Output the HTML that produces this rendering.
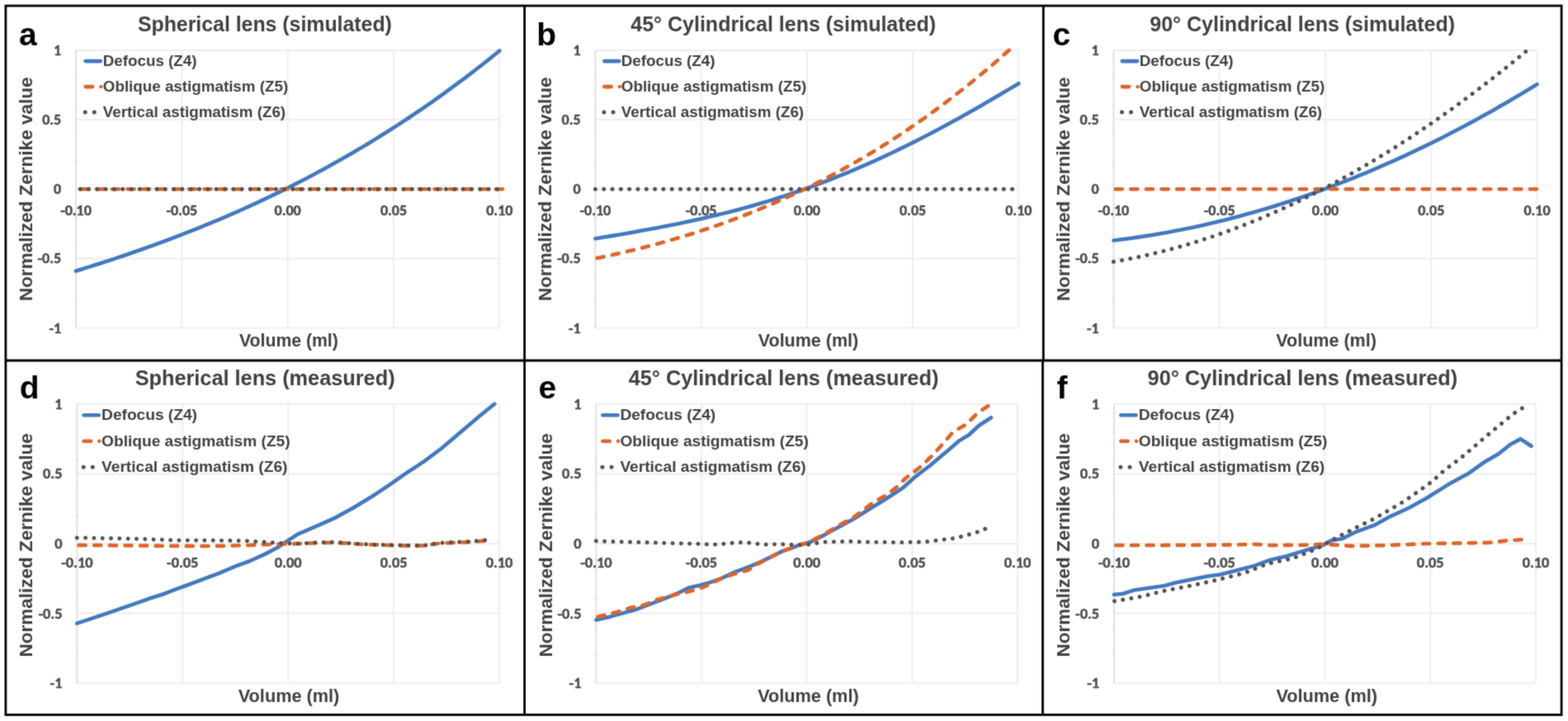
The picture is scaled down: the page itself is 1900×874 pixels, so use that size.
<!DOCTYPE html>
<html><head><meta charset="utf-8"><title>Zernike figure</title>
<style>html,body{margin:0;padding:0;background:#fff;}svg{display:block;}</style></head>
<body><svg width="1900" height="874" viewBox="0 0 1900 874">
<defs><filter id="soft" x="0" y="0" width="1900" height="874" filterUnits="userSpaceOnUse" color-interpolation-filters="sRGB"><feConvolveMatrix order="3" kernelMatrix="0.02250 0.10500 0.02250 0.10500 0.49000 0.10500 0.02250 0.10500 0.02250" divisor="1" edgeMode="duplicate"/></filter></defs>
<g filter="url(#soft)">
<rect x="0" y="0" width="1900" height="874" fill="#fff"/>
<line x1="92.00" y1="60.90" x2="605.30" y2="60.90" stroke="#eeeeee" stroke-width="2"/>
<line x1="92.00" y1="145.08" x2="605.30" y2="145.08" stroke="#eeeeee" stroke-width="2"/>
<line x1="92.00" y1="313.43" x2="605.30" y2="313.43" stroke="#eeeeee" stroke-width="2"/>
<line x1="92.00" y1="397.60" x2="605.30" y2="397.60" stroke="#eeeeee" stroke-width="2"/>
<line x1="92.00" y1="229.25" x2="605.30" y2="229.25" stroke="#eeeeee" stroke-width="2"/>
<line x1="220.32" y1="60.90" x2="220.32" y2="397.60" stroke="#eeeeee" stroke-width="2"/>
<line x1="348.65" y1="60.90" x2="348.65" y2="397.60" stroke="#eeeeee" stroke-width="2"/>
<line x1="476.98" y1="60.90" x2="476.98" y2="397.60" stroke="#eeeeee" stroke-width="2"/>
<line x1="605.30" y1="60.90" x2="605.30" y2="397.60" stroke="#eeeeee" stroke-width="2"/>
<line x1="92.00" y1="60.90" x2="92.00" y2="397.60" stroke="#e0e0e0" stroke-width="2"/>
<line x1="90.00" y1="363.93" x2="94.00" y2="363.93" stroke="#dddddd" stroke-width="1"/>
<line x1="90.00" y1="330.26" x2="94.00" y2="330.26" stroke="#dddddd" stroke-width="1"/>
<line x1="90.00" y1="296.59" x2="94.00" y2="296.59" stroke="#dddddd" stroke-width="1"/>
<line x1="90.00" y1="262.92" x2="94.00" y2="262.92" stroke="#dddddd" stroke-width="1"/>
<line x1="90.00" y1="195.58" x2="94.00" y2="195.58" stroke="#dddddd" stroke-width="1"/>
<line x1="90.00" y1="161.91" x2="94.00" y2="161.91" stroke="#dddddd" stroke-width="1"/>
<line x1="90.00" y1="128.24" x2="94.00" y2="128.24" stroke="#dddddd" stroke-width="1"/>
<line x1="90.00" y1="94.57" x2="94.00" y2="94.57" stroke="#dddddd" stroke-width="1"/>
<text x="74.20" y="66.84" text-anchor="end" font-family="Carlito, Calibri, 'Liberation Sans', sans-serif" font-weight="bold" font-size="18.00" fill="#4d4d4d" stroke="#4d4d4d" stroke-width="0.45">1</text>
<text x="74.20" y="151.02" text-anchor="end" font-family="Carlito, Calibri, 'Liberation Sans', sans-serif" font-weight="bold" font-size="18.00" fill="#4d4d4d" stroke="#4d4d4d" stroke-width="0.45">0.5</text>
<text x="74.20" y="235.19" text-anchor="end" font-family="Carlito, Calibri, 'Liberation Sans', sans-serif" font-weight="bold" font-size="18.00" fill="#4d4d4d" stroke="#4d4d4d" stroke-width="0.45">0</text>
<text x="74.20" y="319.37" text-anchor="end" font-family="Carlito, Calibri, 'Liberation Sans', sans-serif" font-weight="bold" font-size="18.00" fill="#4d4d4d" stroke="#4d4d4d" stroke-width="0.45">-0.5</text>
<text x="74.20" y="403.54" text-anchor="end" font-family="Carlito, Calibri, 'Liberation Sans', sans-serif" font-weight="bold" font-size="18.00" fill="#4d4d4d" stroke="#4d4d4d" stroke-width="0.45">-1</text>
<text x="92.00" y="260.69" text-anchor="middle" font-family="Carlito, Calibri, 'Liberation Sans', sans-serif" font-weight="bold" font-size="18.00" fill="#4d4d4d" stroke="#4d4d4d" stroke-width="0.45">-0.10</text>
<text x="220.32" y="260.69" text-anchor="middle" font-family="Carlito, Calibri, 'Liberation Sans', sans-serif" font-weight="bold" font-size="18.00" fill="#4d4d4d" stroke="#4d4d4d" stroke-width="0.45">-0.05</text>
<text x="348.65" y="260.69" text-anchor="middle" font-family="Carlito, Calibri, 'Liberation Sans', sans-serif" font-weight="bold" font-size="18.00" fill="#4d4d4d" stroke="#4d4d4d" stroke-width="0.45">0.00</text>
<text x="476.98" y="260.69" text-anchor="middle" font-family="Carlito, Calibri, 'Liberation Sans', sans-serif" font-weight="bold" font-size="18.00" fill="#4d4d4d" stroke="#4d4d4d" stroke-width="0.45">0.05</text>
<text x="605.30" y="260.69" text-anchor="middle" font-family="Carlito, Calibri, 'Liberation Sans', sans-serif" font-weight="bold" font-size="18.00" fill="#4d4d4d" stroke="#4d4d4d" stroke-width="0.45">0.10</text>
<text x="320.90" y="38.30" text-anchor="middle" font-family="'Liberation Sans', Arial, sans-serif" font-weight="bold" font-size="24.85" fill="#404040">Spherical lens (simulated)</text>
<text x="349.90" y="420.20" text-anchor="middle" font-family="'Liberation Sans', Arial, sans-serif" font-weight="bold" font-size="21.20" fill="#404040">Volume (ml)</text>
<text transform="translate(38.60,229.25) rotate(-90)" x="0" y="0" text-anchor="middle" font-family="'Liberation Sans', Arial, sans-serif" font-weight="bold" font-size="22.5" fill="#404040">Normalized Zernike value</text>
<text x="23.00" y="54.60" font-family="'Liberation Sans', Arial, sans-serif" font-weight="bold" font-size="39" fill="#000">a</text>
<text x="124.80" y="79.80" font-family="'Liberation Sans', Arial, sans-serif" font-weight="bold" font-size="18.80" fill="#404040">Defocus (Z4)</text>
<line x1="103.60" y1="74.10" x2="121.90" y2="74.10" stroke="#4279BF" stroke-width="4.6" stroke-linecap="round"/>
<text x="124.80" y="110.80" font-family="'Liberation Sans', Arial, sans-serif" font-weight="bold" font-size="18.80" fill="#404040">Oblique astigmatism (Z5)</text>
<line x1="103.60" y1="105.10" x2="112.00" y2="105.10" stroke="#DF6427" stroke-width="4.6" stroke-linecap="round"/>
<line x1="122.25" y1="105.10" x2="122.45" y2="105.10" stroke="#DF6427" stroke-width="4.4" stroke-linecap="round"/>
<text x="124.80" y="141.80" font-family="'Liberation Sans', Arial, sans-serif" font-weight="bold" font-size="18.80" fill="#404040">Vertical astigmatism (Z6)</text>
<circle cx="103.20" cy="136.10" r="2.5" fill="#515151"/>
<circle cx="114.30" cy="136.10" r="2.5" fill="#515151"/>
<line x1="721.40" y1="60.90" x2="1234.30" y2="60.90" stroke="#eeeeee" stroke-width="2"/>
<line x1="721.40" y1="145.08" x2="1234.30" y2="145.08" stroke="#eeeeee" stroke-width="2"/>
<line x1="721.40" y1="313.43" x2="1234.30" y2="313.43" stroke="#eeeeee" stroke-width="2"/>
<line x1="721.40" y1="397.60" x2="1234.30" y2="397.60" stroke="#eeeeee" stroke-width="2"/>
<line x1="721.40" y1="229.25" x2="1234.30" y2="229.25" stroke="#eeeeee" stroke-width="2"/>
<line x1="849.62" y1="60.90" x2="849.62" y2="397.60" stroke="#eeeeee" stroke-width="2"/>
<line x1="977.85" y1="60.90" x2="977.85" y2="397.60" stroke="#eeeeee" stroke-width="2"/>
<line x1="1106.08" y1="60.90" x2="1106.08" y2="397.60" stroke="#eeeeee" stroke-width="2"/>
<line x1="1234.30" y1="60.90" x2="1234.30" y2="397.60" stroke="#eeeeee" stroke-width="2"/>
<line x1="721.40" y1="60.90" x2="721.40" y2="397.60" stroke="#e0e0e0" stroke-width="2"/>
<line x1="719.40" y1="363.93" x2="723.40" y2="363.93" stroke="#dddddd" stroke-width="1"/>
<line x1="719.40" y1="330.26" x2="723.40" y2="330.26" stroke="#dddddd" stroke-width="1"/>
<line x1="719.40" y1="296.59" x2="723.40" y2="296.59" stroke="#dddddd" stroke-width="1"/>
<line x1="719.40" y1="262.92" x2="723.40" y2="262.92" stroke="#dddddd" stroke-width="1"/>
<line x1="719.40" y1="195.58" x2="723.40" y2="195.58" stroke="#dddddd" stroke-width="1"/>
<line x1="719.40" y1="161.91" x2="723.40" y2="161.91" stroke="#dddddd" stroke-width="1"/>
<line x1="719.40" y1="128.24" x2="723.40" y2="128.24" stroke="#dddddd" stroke-width="1"/>
<line x1="719.40" y1="94.57" x2="723.40" y2="94.57" stroke="#dddddd" stroke-width="1"/>
<text x="703.60" y="66.84" text-anchor="end" font-family="Carlito, Calibri, 'Liberation Sans', sans-serif" font-weight="bold" font-size="18.00" fill="#4d4d4d" stroke="#4d4d4d" stroke-width="0.45">1</text>
<text x="703.60" y="151.02" text-anchor="end" font-family="Carlito, Calibri, 'Liberation Sans', sans-serif" font-weight="bold" font-size="18.00" fill="#4d4d4d" stroke="#4d4d4d" stroke-width="0.45">0.5</text>
<text x="703.60" y="235.19" text-anchor="end" font-family="Carlito, Calibri, 'Liberation Sans', sans-serif" font-weight="bold" font-size="18.00" fill="#4d4d4d" stroke="#4d4d4d" stroke-width="0.45">0</text>
<text x="703.60" y="319.37" text-anchor="end" font-family="Carlito, Calibri, 'Liberation Sans', sans-serif" font-weight="bold" font-size="18.00" fill="#4d4d4d" stroke="#4d4d4d" stroke-width="0.45">-0.5</text>
<text x="703.60" y="403.54" text-anchor="end" font-family="Carlito, Calibri, 'Liberation Sans', sans-serif" font-weight="bold" font-size="18.00" fill="#4d4d4d" stroke="#4d4d4d" stroke-width="0.45">-1</text>
<text x="721.40" y="260.69" text-anchor="middle" font-family="Carlito, Calibri, 'Liberation Sans', sans-serif" font-weight="bold" font-size="18.00" fill="#4d4d4d" stroke="#4d4d4d" stroke-width="0.45">-0.10</text>
<text x="849.62" y="260.69" text-anchor="middle" font-family="Carlito, Calibri, 'Liberation Sans', sans-serif" font-weight="bold" font-size="18.00" fill="#4d4d4d" stroke="#4d4d4d" stroke-width="0.45">-0.05</text>
<text x="977.85" y="260.69" text-anchor="middle" font-family="Carlito, Calibri, 'Liberation Sans', sans-serif" font-weight="bold" font-size="18.00" fill="#4d4d4d" stroke="#4d4d4d" stroke-width="0.45">0.00</text>
<text x="1106.08" y="260.69" text-anchor="middle" font-family="Carlito, Calibri, 'Liberation Sans', sans-serif" font-weight="bold" font-size="18.00" fill="#4d4d4d" stroke="#4d4d4d" stroke-width="0.45">0.05</text>
<text x="1234.30" y="260.69" text-anchor="middle" font-family="Carlito, Calibri, 'Liberation Sans', sans-serif" font-weight="bold" font-size="18.00" fill="#4d4d4d" stroke="#4d4d4d" stroke-width="0.45">0.10</text>
<text x="949.20" y="38.30" text-anchor="middle" font-family="'Liberation Sans', Arial, sans-serif" font-weight="bold" font-size="25.00" fill="#404040">45° Cylindrical lens (simulated)</text>
<text x="979.50" y="420.20" text-anchor="middle" font-family="'Liberation Sans', Arial, sans-serif" font-weight="bold" font-size="21.50" fill="#404040">Volume (ml)</text>
<text transform="translate(667.60,229.25) rotate(-90)" x="0" y="0" text-anchor="middle" font-family="'Liberation Sans', Arial, sans-serif" font-weight="bold" font-size="22.5" fill="#404040">Normalized Zernike value</text>
<text x="650.30" y="54.60" font-family="'Liberation Sans', Arial, sans-serif" font-weight="bold" font-size="39" fill="#000">b</text>
<text x="752.80" y="79.80" font-family="'Liberation Sans', Arial, sans-serif" font-weight="bold" font-size="18.80" fill="#404040">Defocus (Z4)</text>
<line x1="732.30" y1="74.10" x2="750.40" y2="74.10" stroke="#4279BF" stroke-width="4.6" stroke-linecap="round"/>
<text x="752.80" y="110.80" font-family="'Liberation Sans', Arial, sans-serif" font-weight="bold" font-size="18.80" fill="#404040">Oblique astigmatism (Z5)</text>
<line x1="732.30" y1="105.10" x2="740.70" y2="105.10" stroke="#DF6427" stroke-width="4.6" stroke-linecap="round"/>
<line x1="750.85" y1="105.10" x2="751.05" y2="105.10" stroke="#DF6427" stroke-width="4.4" stroke-linecap="round"/>
<text x="752.80" y="141.80" font-family="'Liberation Sans', Arial, sans-serif" font-weight="bold" font-size="18.80" fill="#404040">Vertical astigmatism (Z6)</text>
<circle cx="731.90" cy="136.10" r="2.5" fill="#515151"/>
<circle cx="743.00" cy="136.10" r="2.5" fill="#515151"/>
<line x1="1349.40" y1="60.90" x2="1862.50" y2="60.90" stroke="#eeeeee" stroke-width="2"/>
<line x1="1349.40" y1="145.08" x2="1862.50" y2="145.08" stroke="#eeeeee" stroke-width="2"/>
<line x1="1349.40" y1="313.43" x2="1862.50" y2="313.43" stroke="#eeeeee" stroke-width="2"/>
<line x1="1349.40" y1="397.60" x2="1862.50" y2="397.60" stroke="#eeeeee" stroke-width="2"/>
<line x1="1349.40" y1="229.25" x2="1862.50" y2="229.25" stroke="#eeeeee" stroke-width="2"/>
<line x1="1477.68" y1="60.90" x2="1477.68" y2="397.60" stroke="#eeeeee" stroke-width="2"/>
<line x1="1605.95" y1="60.90" x2="1605.95" y2="397.60" stroke="#eeeeee" stroke-width="2"/>
<line x1="1734.23" y1="60.90" x2="1734.23" y2="397.60" stroke="#eeeeee" stroke-width="2"/>
<line x1="1862.50" y1="60.90" x2="1862.50" y2="397.60" stroke="#eeeeee" stroke-width="2"/>
<line x1="1349.40" y1="60.90" x2="1349.40" y2="397.60" stroke="#e0e0e0" stroke-width="2"/>
<line x1="1347.40" y1="363.93" x2="1351.40" y2="363.93" stroke="#dddddd" stroke-width="1"/>
<line x1="1347.40" y1="330.26" x2="1351.40" y2="330.26" stroke="#dddddd" stroke-width="1"/>
<line x1="1347.40" y1="296.59" x2="1351.40" y2="296.59" stroke="#dddddd" stroke-width="1"/>
<line x1="1347.40" y1="262.92" x2="1351.40" y2="262.92" stroke="#dddddd" stroke-width="1"/>
<line x1="1347.40" y1="195.58" x2="1351.40" y2="195.58" stroke="#dddddd" stroke-width="1"/>
<line x1="1347.40" y1="161.91" x2="1351.40" y2="161.91" stroke="#dddddd" stroke-width="1"/>
<line x1="1347.40" y1="128.24" x2="1351.40" y2="128.24" stroke="#dddddd" stroke-width="1"/>
<line x1="1347.40" y1="94.57" x2="1351.40" y2="94.57" stroke="#dddddd" stroke-width="1"/>
<text x="1331.60" y="66.84" text-anchor="end" font-family="Carlito, Calibri, 'Liberation Sans', sans-serif" font-weight="bold" font-size="18.00" fill="#4d4d4d" stroke="#4d4d4d" stroke-width="0.45">1</text>
<text x="1331.60" y="151.02" text-anchor="end" font-family="Carlito, Calibri, 'Liberation Sans', sans-serif" font-weight="bold" font-size="18.00" fill="#4d4d4d" stroke="#4d4d4d" stroke-width="0.45">0.5</text>
<text x="1331.60" y="235.19" text-anchor="end" font-family="Carlito, Calibri, 'Liberation Sans', sans-serif" font-weight="bold" font-size="18.00" fill="#4d4d4d" stroke="#4d4d4d" stroke-width="0.45">0</text>
<text x="1331.60" y="319.37" text-anchor="end" font-family="Carlito, Calibri, 'Liberation Sans', sans-serif" font-weight="bold" font-size="18.00" fill="#4d4d4d" stroke="#4d4d4d" stroke-width="0.45">-0.5</text>
<text x="1331.60" y="403.54" text-anchor="end" font-family="Carlito, Calibri, 'Liberation Sans', sans-serif" font-weight="bold" font-size="18.00" fill="#4d4d4d" stroke="#4d4d4d" stroke-width="0.45">-1</text>
<text x="1349.40" y="260.69" text-anchor="middle" font-family="Carlito, Calibri, 'Liberation Sans', sans-serif" font-weight="bold" font-size="18.00" fill="#4d4d4d" stroke="#4d4d4d" stroke-width="0.45">-0.10</text>
<text x="1477.68" y="260.69" text-anchor="middle" font-family="Carlito, Calibri, 'Liberation Sans', sans-serif" font-weight="bold" font-size="18.00" fill="#4d4d4d" stroke="#4d4d4d" stroke-width="0.45">-0.05</text>
<text x="1605.95" y="260.69" text-anchor="middle" font-family="Carlito, Calibri, 'Liberation Sans', sans-serif" font-weight="bold" font-size="18.00" fill="#4d4d4d" stroke="#4d4d4d" stroke-width="0.45">0.00</text>
<text x="1734.23" y="260.69" text-anchor="middle" font-family="Carlito, Calibri, 'Liberation Sans', sans-serif" font-weight="bold" font-size="18.00" fill="#4d4d4d" stroke="#4d4d4d" stroke-width="0.45">0.05</text>
<text x="1862.50" y="260.69" text-anchor="middle" font-family="Carlito, Calibri, 'Liberation Sans', sans-serif" font-weight="bold" font-size="18.00" fill="#4d4d4d" stroke="#4d4d4d" stroke-width="0.45">0.10</text>
<text x="1578.20" y="38.30" text-anchor="middle" font-family="'Liberation Sans', Arial, sans-serif" font-weight="bold" font-size="25.00" fill="#404040">90° Cylindrical lens (simulated)</text>
<text x="1607.10" y="420.20" text-anchor="middle" font-family="'Liberation Sans', Arial, sans-serif" font-weight="bold" font-size="21.50" fill="#404040">Volume (ml)</text>
<text transform="translate(1296.00,229.25) rotate(-90)" x="0" y="0" text-anchor="middle" font-family="'Liberation Sans', Arial, sans-serif" font-weight="bold" font-size="22.5" fill="#404040">Normalized Zernike value</text>
<text x="1275.40" y="54.60" font-family="'Liberation Sans', Arial, sans-serif" font-weight="bold" font-size="39" fill="#000">c</text>
<text x="1380.80" y="79.80" font-family="'Liberation Sans', Arial, sans-serif" font-weight="bold" font-size="18.80" fill="#404040">Defocus (Z4)</text>
<line x1="1359.80" y1="74.10" x2="1378.00" y2="74.10" stroke="#4279BF" stroke-width="4.6" stroke-linecap="round"/>
<text x="1380.80" y="110.80" font-family="'Liberation Sans', Arial, sans-serif" font-weight="bold" font-size="18.80" fill="#404040">Oblique astigmatism (Z5)</text>
<line x1="1359.80" y1="105.10" x2="1368.20" y2="105.10" stroke="#DF6427" stroke-width="4.6" stroke-linecap="round"/>
<line x1="1378.40" y1="105.10" x2="1378.60" y2="105.10" stroke="#DF6427" stroke-width="4.4" stroke-linecap="round"/>
<text x="1380.80" y="141.80" font-family="'Liberation Sans', Arial, sans-serif" font-weight="bold" font-size="18.80" fill="#404040">Vertical astigmatism (Z6)</text>
<circle cx="1359.40" cy="136.10" r="2.5" fill="#515151"/>
<circle cx="1370.50" cy="136.10" r="2.5" fill="#515151"/>
<line x1="93.30" y1="489.80" x2="605.00" y2="489.80" stroke="#eeeeee" stroke-width="2"/>
<line x1="93.30" y1="574.40" x2="605.00" y2="574.40" stroke="#eeeeee" stroke-width="2"/>
<line x1="93.30" y1="743.60" x2="605.00" y2="743.60" stroke="#eeeeee" stroke-width="2"/>
<line x1="93.30" y1="828.20" x2="605.00" y2="828.20" stroke="#eeeeee" stroke-width="2"/>
<line x1="93.30" y1="659.00" x2="605.00" y2="659.00" stroke="#eeeeee" stroke-width="2"/>
<line x1="221.22" y1="489.80" x2="221.22" y2="828.20" stroke="#eeeeee" stroke-width="2"/>
<line x1="349.15" y1="489.80" x2="349.15" y2="828.20" stroke="#eeeeee" stroke-width="2"/>
<line x1="477.08" y1="489.80" x2="477.08" y2="828.20" stroke="#eeeeee" stroke-width="2"/>
<line x1="605.00" y1="489.80" x2="605.00" y2="828.20" stroke="#eeeeee" stroke-width="2"/>
<line x1="93.30" y1="489.80" x2="93.30" y2="828.20" stroke="#e0e0e0" stroke-width="2"/>
<line x1="91.30" y1="794.36" x2="95.30" y2="794.36" stroke="#dddddd" stroke-width="1"/>
<line x1="91.30" y1="760.52" x2="95.30" y2="760.52" stroke="#dddddd" stroke-width="1"/>
<line x1="91.30" y1="726.68" x2="95.30" y2="726.68" stroke="#dddddd" stroke-width="1"/>
<line x1="91.30" y1="692.84" x2="95.30" y2="692.84" stroke="#dddddd" stroke-width="1"/>
<line x1="91.30" y1="625.16" x2="95.30" y2="625.16" stroke="#dddddd" stroke-width="1"/>
<line x1="91.30" y1="591.32" x2="95.30" y2="591.32" stroke="#dddddd" stroke-width="1"/>
<line x1="91.30" y1="557.48" x2="95.30" y2="557.48" stroke="#dddddd" stroke-width="1"/>
<line x1="91.30" y1="523.64" x2="95.30" y2="523.64" stroke="#dddddd" stroke-width="1"/>
<text x="75.50" y="495.85" text-anchor="end" font-family="Carlito, Calibri, 'Liberation Sans', sans-serif" font-weight="bold" font-size="18.32" fill="#4d4d4d" stroke="#4d4d4d" stroke-width="0.45">1</text>
<text x="75.50" y="580.45" text-anchor="end" font-family="Carlito, Calibri, 'Liberation Sans', sans-serif" font-weight="bold" font-size="18.32" fill="#4d4d4d" stroke="#4d4d4d" stroke-width="0.45">0.5</text>
<text x="75.50" y="665.05" text-anchor="end" font-family="Carlito, Calibri, 'Liberation Sans', sans-serif" font-weight="bold" font-size="18.32" fill="#4d4d4d" stroke="#4d4d4d" stroke-width="0.45">0</text>
<text x="75.50" y="749.65" text-anchor="end" font-family="Carlito, Calibri, 'Liberation Sans', sans-serif" font-weight="bold" font-size="18.32" fill="#4d4d4d" stroke="#4d4d4d" stroke-width="0.45">-0.5</text>
<text x="75.50" y="834.25" text-anchor="end" font-family="Carlito, Calibri, 'Liberation Sans', sans-serif" font-weight="bold" font-size="18.32" fill="#4d4d4d" stroke="#4d4d4d" stroke-width="0.45">-1</text>
<text x="93.30" y="688.45" text-anchor="middle" font-family="Carlito, Calibri, 'Liberation Sans', sans-serif" font-weight="bold" font-size="18.32" fill="#4d4d4d" stroke="#4d4d4d" stroke-width="0.45">-0.10</text>
<text x="221.22" y="688.45" text-anchor="middle" font-family="Carlito, Calibri, 'Liberation Sans', sans-serif" font-weight="bold" font-size="18.32" fill="#4d4d4d" stroke="#4d4d4d" stroke-width="0.45">-0.05</text>
<text x="349.15" y="688.45" text-anchor="middle" font-family="Carlito, Calibri, 'Liberation Sans', sans-serif" font-weight="bold" font-size="18.32" fill="#4d4d4d" stroke="#4d4d4d" stroke-width="0.45">0.00</text>
<text x="477.08" y="688.45" text-anchor="middle" font-family="Carlito, Calibri, 'Liberation Sans', sans-serif" font-weight="bold" font-size="18.32" fill="#4d4d4d" stroke="#4d4d4d" stroke-width="0.45">0.05</text>
<text x="605.00" y="688.45" text-anchor="middle" font-family="Carlito, Calibri, 'Liberation Sans', sans-serif" font-weight="bold" font-size="18.32" fill="#4d4d4d" stroke="#4d4d4d" stroke-width="0.45">0.10</text>
<text x="321.10" y="467.40" text-anchor="middle" font-family="'Liberation Sans', Arial, sans-serif" font-weight="bold" font-size="25.30" fill="#404040">Spherical lens (measured)</text>
<text x="350.00" y="851.21" text-anchor="middle" font-family="'Liberation Sans', Arial, sans-serif" font-weight="bold" font-size="21.70" fill="#404040">Volume (ml)</text>
<text transform="translate(39.40,660.80) rotate(-90)" x="0" y="0" text-anchor="middle" font-family="'Liberation Sans', Arial, sans-serif" font-weight="bold" font-size="22.5" fill="#404040">Normalized Zernike value</text>
<text x="23.80" y="482.80" font-family="'Liberation Sans', Arial, sans-serif" font-weight="bold" font-size="39" fill="#000">d</text>
<text x="123.10" y="509.04" font-family="'Liberation Sans', Arial, sans-serif" font-weight="bold" font-size="19.14" fill="#404040">Defocus (Z4)</text>
<line x1="101.60" y1="503.24" x2="119.70" y2="503.24" stroke="#4279BF" stroke-width="4.6" stroke-linecap="round"/>
<text x="123.10" y="540.60" font-family="'Liberation Sans', Arial, sans-serif" font-weight="bold" font-size="19.14" fill="#404040">Oblique astigmatism (Z5)</text>
<line x1="101.60" y1="534.80" x2="110.00" y2="534.80" stroke="#DF6427" stroke-width="4.6" stroke-linecap="round"/>
<line x1="120.15" y1="534.80" x2="120.35" y2="534.80" stroke="#DF6427" stroke-width="4.4" stroke-linecap="round"/>
<text x="123.10" y="572.16" font-family="'Liberation Sans', Arial, sans-serif" font-weight="bold" font-size="19.14" fill="#404040">Vertical astigmatism (Z6)</text>
<circle cx="101.20" cy="566.35" r="2.5" fill="#515151"/>
<circle cx="112.30" cy="566.35" r="2.5" fill="#515151"/>
<line x1="722.30" y1="489.80" x2="1233.00" y2="489.80" stroke="#eeeeee" stroke-width="2"/>
<line x1="722.30" y1="574.40" x2="1233.00" y2="574.40" stroke="#eeeeee" stroke-width="2"/>
<line x1="722.30" y1="743.60" x2="1233.00" y2="743.60" stroke="#eeeeee" stroke-width="2"/>
<line x1="722.30" y1="828.20" x2="1233.00" y2="828.20" stroke="#eeeeee" stroke-width="2"/>
<line x1="722.30" y1="659.00" x2="1233.00" y2="659.00" stroke="#eeeeee" stroke-width="2"/>
<line x1="849.97" y1="489.80" x2="849.97" y2="828.20" stroke="#eeeeee" stroke-width="2"/>
<line x1="977.65" y1="489.80" x2="977.65" y2="828.20" stroke="#eeeeee" stroke-width="2"/>
<line x1="1105.33" y1="489.80" x2="1105.33" y2="828.20" stroke="#eeeeee" stroke-width="2"/>
<line x1="1233.00" y1="489.80" x2="1233.00" y2="828.20" stroke="#eeeeee" stroke-width="2"/>
<line x1="722.30" y1="489.80" x2="722.30" y2="828.20" stroke="#e0e0e0" stroke-width="2"/>
<line x1="720.30" y1="794.36" x2="724.30" y2="794.36" stroke="#dddddd" stroke-width="1"/>
<line x1="720.30" y1="760.52" x2="724.30" y2="760.52" stroke="#dddddd" stroke-width="1"/>
<line x1="720.30" y1="726.68" x2="724.30" y2="726.68" stroke="#dddddd" stroke-width="1"/>
<line x1="720.30" y1="692.84" x2="724.30" y2="692.84" stroke="#dddddd" stroke-width="1"/>
<line x1="720.30" y1="625.16" x2="724.30" y2="625.16" stroke="#dddddd" stroke-width="1"/>
<line x1="720.30" y1="591.32" x2="724.30" y2="591.32" stroke="#dddddd" stroke-width="1"/>
<line x1="720.30" y1="557.48" x2="724.30" y2="557.48" stroke="#dddddd" stroke-width="1"/>
<line x1="720.30" y1="523.64" x2="724.30" y2="523.64" stroke="#dddddd" stroke-width="1"/>
<text x="704.50" y="495.85" text-anchor="end" font-family="Carlito, Calibri, 'Liberation Sans', sans-serif" font-weight="bold" font-size="18.32" fill="#4d4d4d" stroke="#4d4d4d" stroke-width="0.45">1</text>
<text x="704.50" y="580.45" text-anchor="end" font-family="Carlito, Calibri, 'Liberation Sans', sans-serif" font-weight="bold" font-size="18.32" fill="#4d4d4d" stroke="#4d4d4d" stroke-width="0.45">0.5</text>
<text x="704.50" y="665.05" text-anchor="end" font-family="Carlito, Calibri, 'Liberation Sans', sans-serif" font-weight="bold" font-size="18.32" fill="#4d4d4d" stroke="#4d4d4d" stroke-width="0.45">0</text>
<text x="704.50" y="749.65" text-anchor="end" font-family="Carlito, Calibri, 'Liberation Sans', sans-serif" font-weight="bold" font-size="18.32" fill="#4d4d4d" stroke="#4d4d4d" stroke-width="0.45">-0.5</text>
<text x="704.50" y="834.25" text-anchor="end" font-family="Carlito, Calibri, 'Liberation Sans', sans-serif" font-weight="bold" font-size="18.32" fill="#4d4d4d" stroke="#4d4d4d" stroke-width="0.45">-1</text>
<text x="722.30" y="688.45" text-anchor="middle" font-family="Carlito, Calibri, 'Liberation Sans', sans-serif" font-weight="bold" font-size="18.32" fill="#4d4d4d" stroke="#4d4d4d" stroke-width="0.45">-0.10</text>
<text x="849.97" y="688.45" text-anchor="middle" font-family="Carlito, Calibri, 'Liberation Sans', sans-serif" font-weight="bold" font-size="18.32" fill="#4d4d4d" stroke="#4d4d4d" stroke-width="0.45">-0.05</text>
<text x="977.65" y="688.45" text-anchor="middle" font-family="Carlito, Calibri, 'Liberation Sans', sans-serif" font-weight="bold" font-size="18.32" fill="#4d4d4d" stroke="#4d4d4d" stroke-width="0.45">0.00</text>
<text x="1105.33" y="688.45" text-anchor="middle" font-family="Carlito, Calibri, 'Liberation Sans', sans-serif" font-weight="bold" font-size="18.32" fill="#4d4d4d" stroke="#4d4d4d" stroke-width="0.45">0.05</text>
<text x="1233.00" y="688.45" text-anchor="middle" font-family="Carlito, Calibri, 'Liberation Sans', sans-serif" font-weight="bold" font-size="18.32" fill="#4d4d4d" stroke="#4d4d4d" stroke-width="0.45">0.10</text>
<text x="949.50" y="467.40" text-anchor="middle" font-family="'Liberation Sans', Arial, sans-serif" font-weight="bold" font-size="25.30" fill="#404040">45° Cylindrical lens (measured)</text>
<text x="979.40" y="851.21" text-anchor="middle" font-family="'Liberation Sans', Arial, sans-serif" font-weight="bold" font-size="21.70" fill="#404040">Volume (ml)</text>
<text transform="translate(668.60,660.80) rotate(-90)" x="0" y="0" text-anchor="middle" font-family="'Liberation Sans', Arial, sans-serif" font-weight="bold" font-size="22.5" fill="#404040">Normalized Zernike value</text>
<text x="652.50" y="482.80" font-family="'Liberation Sans', Arial, sans-serif" font-weight="bold" font-size="39" fill="#000">e</text>
<text x="751.40" y="509.04" font-family="'Liberation Sans', Arial, sans-serif" font-weight="bold" font-size="19.14" fill="#404040">Defocus (Z4)</text>
<line x1="730.30" y1="503.24" x2="748.50" y2="503.24" stroke="#4279BF" stroke-width="4.6" stroke-linecap="round"/>
<text x="751.40" y="540.60" font-family="'Liberation Sans', Arial, sans-serif" font-weight="bold" font-size="19.14" fill="#404040">Oblique astigmatism (Z5)</text>
<line x1="730.30" y1="534.80" x2="738.70" y2="534.80" stroke="#DF6427" stroke-width="4.6" stroke-linecap="round"/>
<line x1="748.90" y1="534.80" x2="749.10" y2="534.80" stroke="#DF6427" stroke-width="4.4" stroke-linecap="round"/>
<text x="751.40" y="572.16" font-family="'Liberation Sans', Arial, sans-serif" font-weight="bold" font-size="19.14" fill="#404040">Vertical astigmatism (Z6)</text>
<circle cx="729.90" cy="566.35" r="2.5" fill="#515151"/>
<circle cx="741.00" cy="566.35" r="2.5" fill="#515151"/>
<line x1="1349.90" y1="489.80" x2="1861.00" y2="489.80" stroke="#eeeeee" stroke-width="2"/>
<line x1="1349.90" y1="574.40" x2="1861.00" y2="574.40" stroke="#eeeeee" stroke-width="2"/>
<line x1="1349.90" y1="743.60" x2="1861.00" y2="743.60" stroke="#eeeeee" stroke-width="2"/>
<line x1="1349.90" y1="828.20" x2="1861.00" y2="828.20" stroke="#eeeeee" stroke-width="2"/>
<line x1="1349.90" y1="659.00" x2="1861.00" y2="659.00" stroke="#eeeeee" stroke-width="2"/>
<line x1="1477.68" y1="489.80" x2="1477.68" y2="828.20" stroke="#eeeeee" stroke-width="2"/>
<line x1="1605.45" y1="489.80" x2="1605.45" y2="828.20" stroke="#eeeeee" stroke-width="2"/>
<line x1="1733.23" y1="489.80" x2="1733.23" y2="828.20" stroke="#eeeeee" stroke-width="2"/>
<line x1="1861.00" y1="489.80" x2="1861.00" y2="828.20" stroke="#eeeeee" stroke-width="2"/>
<line x1="1349.90" y1="489.80" x2="1349.90" y2="828.20" stroke="#e0e0e0" stroke-width="2"/>
<line x1="1347.90" y1="794.36" x2="1351.90" y2="794.36" stroke="#dddddd" stroke-width="1"/>
<line x1="1347.90" y1="760.52" x2="1351.90" y2="760.52" stroke="#dddddd" stroke-width="1"/>
<line x1="1347.90" y1="726.68" x2="1351.90" y2="726.68" stroke="#dddddd" stroke-width="1"/>
<line x1="1347.90" y1="692.84" x2="1351.90" y2="692.84" stroke="#dddddd" stroke-width="1"/>
<line x1="1347.90" y1="625.16" x2="1351.90" y2="625.16" stroke="#dddddd" stroke-width="1"/>
<line x1="1347.90" y1="591.32" x2="1351.90" y2="591.32" stroke="#dddddd" stroke-width="1"/>
<line x1="1347.90" y1="557.48" x2="1351.90" y2="557.48" stroke="#dddddd" stroke-width="1"/>
<line x1="1347.90" y1="523.64" x2="1351.90" y2="523.64" stroke="#dddddd" stroke-width="1"/>
<text x="1332.10" y="495.85" text-anchor="end" font-family="Carlito, Calibri, 'Liberation Sans', sans-serif" font-weight="bold" font-size="18.32" fill="#4d4d4d" stroke="#4d4d4d" stroke-width="0.45">1</text>
<text x="1332.10" y="580.45" text-anchor="end" font-family="Carlito, Calibri, 'Liberation Sans', sans-serif" font-weight="bold" font-size="18.32" fill="#4d4d4d" stroke="#4d4d4d" stroke-width="0.45">0.5</text>
<text x="1332.10" y="665.05" text-anchor="end" font-family="Carlito, Calibri, 'Liberation Sans', sans-serif" font-weight="bold" font-size="18.32" fill="#4d4d4d" stroke="#4d4d4d" stroke-width="0.45">0</text>
<text x="1332.10" y="749.65" text-anchor="end" font-family="Carlito, Calibri, 'Liberation Sans', sans-serif" font-weight="bold" font-size="18.32" fill="#4d4d4d" stroke="#4d4d4d" stroke-width="0.45">-0.5</text>
<text x="1332.10" y="834.25" text-anchor="end" font-family="Carlito, Calibri, 'Liberation Sans', sans-serif" font-weight="bold" font-size="18.32" fill="#4d4d4d" stroke="#4d4d4d" stroke-width="0.45">-1</text>
<text x="1349.90" y="688.45" text-anchor="middle" font-family="Carlito, Calibri, 'Liberation Sans', sans-serif" font-weight="bold" font-size="18.32" fill="#4d4d4d" stroke="#4d4d4d" stroke-width="0.45">-0.10</text>
<text x="1477.68" y="688.45" text-anchor="middle" font-family="Carlito, Calibri, 'Liberation Sans', sans-serif" font-weight="bold" font-size="18.32" fill="#4d4d4d" stroke="#4d4d4d" stroke-width="0.45">-0.05</text>
<text x="1605.45" y="688.45" text-anchor="middle" font-family="Carlito, Calibri, 'Liberation Sans', sans-serif" font-weight="bold" font-size="18.32" fill="#4d4d4d" stroke="#4d4d4d" stroke-width="0.45">0.00</text>
<text x="1733.23" y="688.45" text-anchor="middle" font-family="Carlito, Calibri, 'Liberation Sans', sans-serif" font-weight="bold" font-size="18.32" fill="#4d4d4d" stroke="#4d4d4d" stroke-width="0.45">0.05</text>
<text x="1861.00" y="688.45" text-anchor="middle" font-family="Carlito, Calibri, 'Liberation Sans', sans-serif" font-weight="bold" font-size="18.32" fill="#4d4d4d" stroke="#4d4d4d" stroke-width="0.45">0.10</text>
<text x="1578.40" y="467.40" text-anchor="middle" font-family="'Liberation Sans', Arial, sans-serif" font-weight="bold" font-size="25.30" fill="#404040">90° Cylindrical lens (measured)</text>
<text x="1607.70" y="851.21" text-anchor="middle" font-family="'Liberation Sans', Arial, sans-serif" font-weight="bold" font-size="21.70" fill="#404040">Volume (ml)</text>
<text transform="translate(1296.00,660.80) rotate(-90)" x="0" y="0" text-anchor="middle" font-family="'Liberation Sans', Arial, sans-serif" font-weight="bold" font-size="22.5" fill="#404040">Normalized Zernike value</text>
<text x="1280.40" y="482.80" font-family="'Liberation Sans', Arial, sans-serif" font-weight="bold" font-size="39" fill="#000">f</text>
<text x="1379.80" y="509.04" font-family="'Liberation Sans', Arial, sans-serif" font-weight="bold" font-size="19.14" fill="#404040">Defocus (Z4)</text>
<line x1="1358.30" y1="503.24" x2="1376.50" y2="503.24" stroke="#4279BF" stroke-width="4.6" stroke-linecap="round"/>
<text x="1379.80" y="540.60" font-family="'Liberation Sans', Arial, sans-serif" font-weight="bold" font-size="19.14" fill="#404040">Oblique astigmatism (Z5)</text>
<line x1="1358.30" y1="534.80" x2="1366.70" y2="534.80" stroke="#DF6427" stroke-width="4.6" stroke-linecap="round"/>
<line x1="1376.90" y1="534.80" x2="1377.10" y2="534.80" stroke="#DF6427" stroke-width="4.4" stroke-linecap="round"/>
<text x="1379.80" y="572.16" font-family="'Liberation Sans', Arial, sans-serif" font-weight="bold" font-size="19.14" fill="#404040">Vertical astigmatism (Z6)</text>
<circle cx="1357.90" cy="566.35" r="2.5" fill="#515151"/>
<circle cx="1369.00" cy="566.35" r="2.5" fill="#515151"/>
<path d="M92.00,328.47 L97.77,326.70 L103.53,324.92 L109.30,323.12 L115.07,321.30 L120.84,319.46 L126.60,317.60 L132.37,315.72 L138.14,313.82 L143.91,311.90 L149.67,309.96 L155.44,308.00 L161.21,306.02 L166.98,304.01 L172.74,301.99 L178.51,299.94 L184.28,297.87 L190.05,295.77 L195.81,293.66 L201.58,291.51 L207.35,289.35 L213.12,287.16 L218.88,284.94 L224.65,282.70 L230.42,280.44 L236.19,278.15 L241.95,275.83 L247.72,273.48 L253.49,271.11 L259.26,268.71 L265.02,266.29 L270.79,263.83 L276.56,261.35 L282.32,258.84 L288.09,256.30 L293.86,253.73 L299.63,251.13 L305.39,248.50 L311.16,245.84 L316.93,243.14 L322.70,240.42 L328.46,237.67 L334.23,234.88 L340.00,232.06 L345.77,229.21 L351.53,226.33 L357.30,223.41 L363.07,220.46 L368.84,217.48 L374.60,214.46 L380.37,211.41 L386.14,208.32 L391.91,205.19 L397.67,202.03 L403.44,198.84 L409.21,195.61 L414.98,192.34 L420.74,189.03 L426.51,185.69 L432.28,182.31 L438.04,178.89 L443.81,175.43 L449.58,171.93 L455.35,168.40 L461.11,164.82 L466.88,161.21 L472.65,157.55 L478.42,153.86 L484.18,150.12 L489.95,146.34 L495.72,142.52 L501.49,138.66 L507.25,134.75 L513.02,130.81 L518.79,126.82 L524.56,122.78 L530.32,118.70 L536.09,114.58 L541.86,110.42 L547.63,106.21 L553.39,101.95 L559.16,97.65 L564.93,93.30 L570.70,88.91 L576.46,84.47 L582.23,79.98 L588.00,75.44 L593.77,70.86 L599.53,66.23 L605.30,61.55" fill="none" stroke="#4279BF" stroke-width="4.6" stroke-linejoin="round" stroke-linecap="round"/>
<path d="M96.40,229.25 L609.30,229.25" fill="none" stroke="#DF6427" stroke-width="4.6" stroke-linejoin="round" stroke-linecap="round" stroke-dasharray="8.1 10.5" stroke-dashoffset="-2.3"/>
<path d="M97.17,229.25 L609.30,229.25" fill="none" stroke="#515151" stroke-width="5" stroke-linejoin="round" stroke-linecap="round" stroke-dasharray="0.01 10.3"/>
<path d="M721.40,289.27 L727.16,288.31 L732.93,287.34 L738.69,286.37 L744.45,285.39 L750.21,284.41 L755.98,283.42 L761.74,282.42 L767.50,281.41 L773.27,280.38 L779.03,279.35 L784.79,278.30 L790.56,277.23 L796.32,276.15 L802.08,275.05 L807.84,273.93 L813.61,272.79 L819.37,271.63 L825.13,270.45 L830.90,269.24 L836.66,268.01 L842.42,266.75 L848.18,265.47 L853.95,264.16 L859.71,262.83 L865.47,261.46 L871.24,260.07 L877.00,258.64 L882.76,257.19 L888.52,255.70 L894.29,254.18 L900.05,252.62 L905.81,251.04 L911.58,249.42 L917.34,247.76 L923.10,246.07 L928.87,244.35 L934.63,242.59 L940.39,240.79 L946.15,238.95 L951.92,237.08 L957.68,235.17 L963.44,233.23 L969.21,231.24 L974.97,229.22 L980.73,227.16 L986.49,225.06 L992.26,222.92 L998.02,220.74 L1003.78,218.52 L1009.55,216.27 L1015.31,213.98 L1021.07,211.64 L1026.83,209.27 L1032.60,206.86 L1038.36,204.41 L1044.12,201.93 L1049.89,199.40 L1055.65,196.84 L1061.41,194.24 L1067.18,191.60 L1072.94,188.92 L1078.70,186.21 L1084.46,183.46 L1090.23,180.68 L1095.99,177.86 L1101.75,175.00 L1107.52,172.11 L1113.28,169.19 L1119.04,166.23 L1124.80,163.24 L1130.57,160.22 L1136.33,157.17 L1142.09,154.08 L1147.86,150.97 L1153.62,147.82 L1159.38,144.65 L1165.14,141.45 L1170.91,138.22 L1176.67,134.97 L1182.43,131.69 L1188.20,128.39 L1193.96,125.06 L1199.72,121.71 L1205.49,118.34 L1211.25,114.95 L1217.01,111.54 L1222.77,108.11 L1228.54,104.67 L1234.30,101.21" fill="none" stroke="#4279BF" stroke-width="4.6" stroke-linejoin="round" stroke-linecap="round"/>
<path d="M721.40,313.31 L727.06,312.15 L732.72,310.96 L738.39,309.75 L744.05,308.51 L749.71,307.24 L755.37,305.94 L761.03,304.61 L766.69,303.25 L772.36,301.86 L778.02,300.44 L783.68,298.99 L789.34,297.51 L795.00,296.00 L800.67,294.46 L806.33,292.88 L811.99,291.27 L817.65,289.63 L823.31,287.96 L828.97,286.25 L834.64,284.50 L840.30,282.73 L845.96,280.91 L851.62,279.06 L857.28,277.18 L862.94,275.26 L868.61,273.30 L874.27,271.31 L879.93,269.27 L885.59,267.20 L891.25,265.10 L896.92,262.95 L902.58,260.76 L908.24,258.54 L913.90,256.27 L919.56,253.97 L925.22,251.62 L930.89,249.23 L936.55,246.80 L942.21,244.33 L947.87,241.82 L953.53,239.26 L959.20,236.66 L964.86,234.02 L970.52,231.34 L976.18,228.61 L981.84,225.83 L987.50,223.01 L993.17,220.14 L998.83,217.23 L1004.49,214.27 L1010.15,211.27 L1015.81,208.22 L1021.48,205.12 L1027.14,201.97 L1032.80,198.77 L1038.46,195.53 L1044.12,192.24 L1049.78,188.89 L1055.45,185.50 L1061.11,182.06 L1066.77,178.56 L1072.43,175.02 L1078.09,171.42 L1083.76,167.77 L1089.42,164.07 L1095.08,160.32 L1100.74,156.51 L1106.40,152.65 L1112.06,148.74 L1117.73,144.77 L1123.39,140.75 L1129.05,136.67 L1134.71,132.53 L1140.37,128.35 L1146.03,124.10 L1151.70,119.80 L1157.36,115.44 L1163.02,111.02 L1168.68,106.54 L1174.34,102.01 L1180.01,97.42 L1185.67,92.77 L1191.33,88.06 L1196.99,83.29 L1202.65,78.45 L1208.31,73.56 L1213.98,68.61 L1219.64,63.59 L1225.30,58.52" fill="none" stroke="#DF6427" stroke-width="4.6" stroke-linejoin="round" stroke-linecap="round" stroke-dasharray="8.1 10.5" stroke-dashoffset="-2.3"/>
<path d="M721.40,229.25 L1234.30,229.25" fill="none" stroke="#515151" stroke-width="5" stroke-linejoin="round" stroke-linecap="round" stroke-dasharray="0.01 10.3"/>
<path d="M1349.40,291.44 L1355.17,290.74 L1360.93,290.02 L1366.70,289.26 L1372.46,288.46 L1378.23,287.64 L1383.99,286.78 L1389.76,285.89 L1395.52,284.96 L1401.29,284.01 L1407.05,283.02 L1412.82,281.99 L1418.58,280.94 L1424.35,279.85 L1430.11,278.73 L1435.88,277.57 L1441.64,276.39 L1447.41,275.17 L1453.17,273.91 L1458.94,272.63 L1464.70,271.31 L1470.47,269.96 L1476.23,268.58 L1482.00,267.16 L1487.76,265.71 L1493.53,264.23 L1499.29,262.72 L1505.06,261.17 L1510.82,259.59 L1516.59,257.98 L1522.36,256.34 L1528.12,254.66 L1533.89,252.95 L1539.65,251.21 L1545.42,249.44 L1551.18,247.63 L1556.95,245.79 L1562.71,243.92 L1568.48,242.01 L1574.24,240.08 L1580.01,238.11 L1585.77,236.11 L1591.54,234.07 L1597.30,232.01 L1603.07,229.91 L1608.83,227.78 L1614.60,225.61 L1620.36,223.42 L1626.13,221.19 L1631.89,218.93 L1637.66,216.64 L1643.42,214.31 L1649.19,211.95 L1654.95,209.56 L1660.72,207.14 L1666.48,204.69 L1672.25,202.20 L1678.01,199.68 L1683.78,197.13 L1689.54,194.55 L1695.31,191.93 L1701.08,189.29 L1706.84,186.61 L1712.61,183.90 L1718.37,181.15 L1724.14,178.38 L1729.90,175.57 L1735.67,172.73 L1741.43,169.86 L1747.20,166.95 L1752.96,164.01 L1758.73,161.05 L1764.49,158.05 L1770.26,155.01 L1776.02,151.95 L1781.79,148.85 L1787.55,145.72 L1793.32,142.56 L1799.08,139.37 L1804.85,136.15 L1810.61,132.89 L1816.38,129.60 L1822.14,126.28 L1827.91,122.93 L1833.67,119.55 L1839.44,116.13 L1845.20,112.68 L1850.97,109.20 L1856.73,105.69 L1862.50,102.15" fill="none" stroke="#4279BF" stroke-width="4.6" stroke-linejoin="round" stroke-linecap="round"/>
<path d="M1349.40,229.25 L1862.50,229.25" fill="none" stroke="#DF6427" stroke-width="4.6" stroke-linejoin="round" stroke-linecap="round" stroke-dasharray="8.1 10.5" stroke-dashoffset="-2.3"/>
<path d="M1349.40,317.29 L1355.05,316.31 L1360.71,315.28 L1366.36,314.21 L1372.01,313.09 L1377.66,311.92 L1383.32,310.71 L1388.97,309.45 L1394.62,308.15 L1400.28,306.80 L1405.93,305.40 L1411.58,303.96 L1417.23,302.48 L1422.89,300.95 L1428.54,299.37 L1434.19,297.75 L1439.84,296.09 L1445.50,294.38 L1451.15,292.63 L1456.80,290.83 L1462.46,288.98 L1468.11,287.10 L1473.76,285.16 L1479.41,283.19 L1485.07,281.17 L1490.72,279.10 L1496.37,276.99 L1502.03,274.84 L1507.68,272.64 L1513.33,270.40 L1518.98,268.12 L1524.64,265.79 L1530.29,263.42 L1535.94,261.01 L1541.60,258.55 L1547.25,256.05 L1552.90,253.51 L1558.55,250.92 L1564.21,248.29 L1569.86,245.62 L1575.51,242.91 L1581.17,240.15 L1586.82,237.35 L1592.47,234.51 L1598.12,231.62 L1603.78,228.70 L1609.43,225.73 L1615.08,222.71 L1620.73,219.66 L1626.39,216.57 L1632.04,213.43 L1637.69,210.25 L1643.35,207.03 L1649.00,203.77 L1654.65,200.47 L1660.30,197.12 L1665.96,193.74 L1671.61,190.31 L1677.26,186.84 L1682.92,183.33 L1688.57,179.78 L1694.22,176.19 L1699.87,172.56 L1705.53,168.89 L1711.18,165.17 L1716.83,161.42 L1722.49,157.63 L1728.14,153.79 L1733.79,149.92 L1739.44,146.00 L1745.10,142.05 L1750.75,138.06 L1756.40,134.02 L1762.06,129.95 L1767.71,125.84 L1773.36,121.68 L1779.01,117.49 L1784.67,113.26 L1790.32,108.99 L1795.97,104.68 L1801.62,100.33 L1807.28,95.94 L1812.93,91.51 L1818.58,87.05 L1824.24,82.54 L1829.89,78.00 L1835.54,73.42 L1841.19,68.80 L1846.85,64.14 L1852.50,59.44" fill="none" stroke="#515151" stroke-width="5" stroke-linejoin="round" stroke-linecap="round" stroke-dasharray="0.01 10.3"/>
<path d="M93.30,755.65 L127.07,744.34 L161.10,732.65 L179.52,726.05 L197.69,720.25 L208.18,716.19 L227.11,709.25 L246.04,702.15 L264.98,695.04 L284.16,686.92 L302.84,679.98 L321.77,671.35 L336.10,663.74 L360.66,647.66 L383.95,637.68 L405.69,627.87 L427.44,616.02 L449.19,602.83 L470.68,588.61 L492.43,573.38 L514.17,559.17 L535.92,542.76 L557.67,524.32 L579.41,505.87 L599.12,489.80" fill="none" stroke="#4279BF" stroke-width="4.6" stroke-linejoin="round" stroke-linecap="round"/>
<path d="M93.30,660.86 L144.47,661.20 L195.64,661.71 L221.22,661.88 L246.81,662.05 L272.39,661.71 L297.98,661.03 L323.56,660.02 L341.47,659.51 L362.20,659.00 L384.20,658.15 L401.86,657.75 L419.51,658.49 L440.23,659.95 L465.31,660.66 L487.31,661.35 L513.92,661.45 L533.11,658.44 L553.83,657.75 L569.95,657.05 L587.60,655.55 L595.53,655.85" fill="none" stroke="#DF6427" stroke-width="4.6" stroke-linejoin="round" stroke-linecap="round" stroke-dasharray="8.1 10.5" stroke-dashoffset="-2.3"/>
<path d="M93.30,651.89 L131.68,652.57 L170.06,653.25 L195.64,654.26 L221.22,655.11 L246.81,654.94 L272.39,655.28 L297.98,655.62 L318.45,656.97 L338.92,658.49 L362.20,659.00 L384.20,657.65 L401.86,657.31 L419.51,658.15 L440.23,659.68 L465.31,660.52 L487.31,661.20 L513.92,661.20 L533.11,658.15 L553.83,657.14 L569.95,656.29 L587.60,654.77 L595.53,654.60" fill="none" stroke="#515151" stroke-width="5" stroke-linejoin="round" stroke-linecap="round" stroke-dasharray="0.01 10.3"/>
<path d="M722.30,751.50 L740.00,747.40 L770.00,739.10 L800.00,727.70 L820.60,719.50 L834.30,712.60 L848.00,709.50 L860.00,706.10 L873.70,701.30 L890.00,693.70 L908.00,686.90 L920.00,681.80 L933.70,675.30 L947.50,668.40 L961.20,663.60 L968.00,660.90 L980.00,657.80 L986.90,654.60 L1000.60,647.60 L1010.00,642.30 L1021.20,636.30 L1034.90,628.80 L1058.50,614.00 L1070.00,607.00 L1081.20,599.80 L1094.90,590.80 L1109.10,577.80 L1127.40,564.00 L1145.70,548.50 L1150.00,544.90 L1162.00,534.40 L1174.00,527.20 L1186.00,516.00 L1201.00,506.20" fill="none" stroke="#4279BF" stroke-width="4.6" stroke-linejoin="round" stroke-linecap="round"/>
<path d="M722.30,748.30 L745.50,742.60 L762.60,737.10 L781.90,732.90 L796.30,726.80 L801.40,725.60 L816.50,721.20 L835.00,717.10 L853.50,711.20 L871.70,702.30 L888.80,696.10 L906.70,691.00 L919.00,683.10 L933.70,675.30 L947.50,668.40 L961.20,663.60 L968.00,660.90 L980.00,657.50 L986.90,653.80 L1000.60,646.40 L1010.00,640.70 L1021.20,634.30 L1034.90,626.80 L1058.50,608.70 L1072.90,600.80 L1087.40,589.80 L1098.30,578.80 L1102.70,575.90 L1116.50,565.00 L1130.20,551.70 L1143.00,537.50 L1154.80,523.60 L1170.80,514.40 L1184.40,500.80 L1198.00,491.60 L1202.50,489.80" fill="none" stroke="#DF6427" stroke-width="4.6" stroke-linejoin="round" stroke-linecap="round" stroke-dasharray="8.1 10.5" stroke-dashoffset="-2.3"/>
<path d="M722.30,655.80 L760.00,657.00 L800.00,658.00 L830.00,658.80 L850.00,659.30 L860.70,660.10 L871.00,659.80 L881.60,658.70 L892.30,657.70 L902.90,657.40 L913.50,658.70 L924.10,660.20 L934.80,659.90 L945.40,659.50 L956.00,660.20 L976.30,660.50 L998.50,657.00 L1030.10,656.30 L1060.00,657.20 L1090.00,657.50 L1120.00,657.00 L1137.40,654.80 L1157.00,652.50 L1167.80,649.80 L1187.40,644.00 L1197.20,639.50" fill="none" stroke="#515151" stroke-width="5" stroke-linejoin="round" stroke-linecap="round" stroke-dasharray="0.01 10.3"/>
<path d="M1349.85,720.76 L1360.85,719.74 L1374.95,715.17 L1411.35,709.93 L1424.75,706.21 L1461.95,698.76 L1478.35,696.56 L1499.15,691.32 L1521.45,685.40 L1539.35,678.63 L1558.65,674.23 L1573.55,669.66 L1588.45,665.26 L1603.25,660.69 L1612.95,655.28 L1626.25,653.08 L1641.45,645.46 L1665.35,636.67 L1684.95,625.84 L1706.65,616.02 L1728.35,604.01 L1754.45,587.60 L1778.35,574.57 L1800.15,559.17 L1815.35,550.54 L1830.55,538.53 L1842.55,532.10 L1855.55,540.73" fill="none" stroke="#4279BF" stroke-width="4.6" stroke-linejoin="round" stroke-linecap="round"/>
<path d="M1349.95,661.03 L1399.95,661.03 L1449.95,660.69 L1499.95,660.35 L1519.95,659.68 L1539.95,661.03 L1579.95,660.69 L1606.65,659.68 L1637.05,661.88 L1673.95,661.20 L1728.35,659.00 L1771.85,658.32 L1804.45,657.82 L1826.25,655.28 L1850.15,653.75" fill="none" stroke="#DF6427" stroke-width="4.6" stroke-linejoin="round" stroke-linecap="round" stroke-dasharray="8.1 10.5" stroke-dashoffset="-2.3"/>
<path d="M1350.45,728.71 L1381.65,723.47 L1411.35,716.02 L1444.15,709.76 L1475.35,702.82 L1506.55,695.04 L1536.35,683.20 L1566.05,676.94 L1595.85,665.26 L1606.25,659.00 L1625.15,648.85 L1644.65,638.87 L1663.15,629.73 L1681.65,619.24 L1700.15,608.41 L1717.55,596.40 L1734.95,583.88 L1751.25,569.15 L1767.55,557.14 L1783.85,543.61 L1800.15,529.39 L1817.55,515.01 L1833.85,501.47 L1851.25,490.65" fill="none" stroke="#515151" stroke-width="5" stroke-linejoin="round" stroke-linecap="round" stroke-dasharray="0.01 10.3"/>
<rect x="6.9" y="7.0" width="1885.2" height="859.5" fill="none" stroke="#000" stroke-width="2.8"/>
<line x1="635.6" y1="7" x2="635.6" y2="866.5" stroke="#000" stroke-width="2.8"/>
<line x1="1264.3" y1="7" x2="1264.3" y2="436.7" stroke="#000" stroke-width="2.8"/>
<line x1="1263.5" y1="436.7" x2="1263.5" y2="866.5" stroke="#000" stroke-width="2.8"/>
<line x1="7" y1="437.0" x2="1892" y2="437.0" stroke="#000" stroke-width="2.8"/>
</g>
</svg></body></html>
